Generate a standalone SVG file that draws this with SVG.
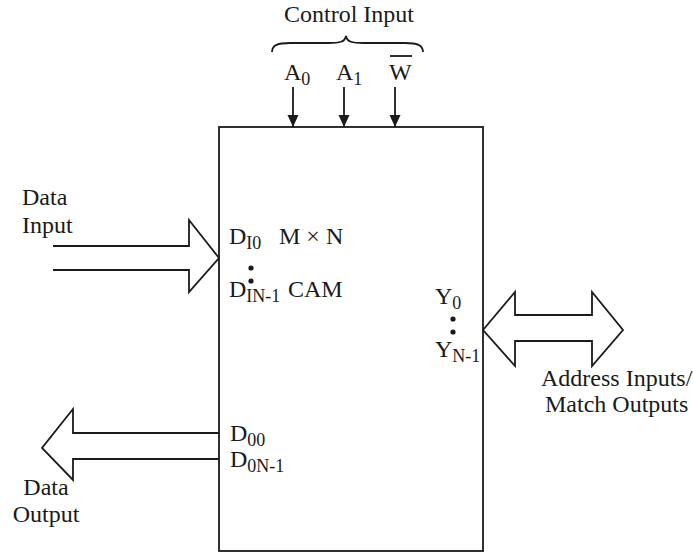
<svg xmlns="http://www.w3.org/2000/svg" width="693" height="553" viewBox="0 0 693 553">
<style>
text{font-family:"Liberation Serif","Times New Roman",serif;font-size:24px;fill:#1a1a1a}
.sub{font-size:18px}
.ln{fill:none;stroke:#1a1a1a;stroke-width:1.8}
.bus{fill:#fff;stroke:#1a1a1a;stroke-width:1.8;stroke-linejoin:miter}
.dot{fill:#1a1a1a}
</style>
<defs>
<marker id="ah" markerUnits="userSpaceOnUse" markerWidth="12" markerHeight="14" viewBox="0 0 12 14" refX="12" refY="7" orient="auto">
<path d="M0,1.5 L12,7 L0,12.5 Z" fill="#1a1a1a"/>
</marker>
</defs>
<rect width="693" height="553" fill="#fff"/>
<g id="connectors">
<line class="ln" x1="293" y1="87" x2="293" y2="127" marker-end="url(#ah)"/>
<line class="ln" x1="344" y1="87" x2="344" y2="127" marker-end="url(#ah)"/>
<line class="ln" x1="395" y1="87" x2="395" y2="127" marker-end="url(#ah)"/>
<path id="data-input-bus" class="bus" d="M53,246 L189,246 L189,220 L219,258 L189,292 L189,270 L53,270"/>
<path id="addr-bus" class="bus" d="M483,330 L515,292 L515,315 L592,315 L592,292 L623,330 L592,366 L592,341 L515,341 L515,366 Z"/>
<path id="data-output-bus" class="bus" d="M219,433 L73,433 L73,409 L42,448 L73,480 L73,459 L219,459"/>
</g>
<g id="control-input">
<text x="349" y="22" text-anchor="middle">Control Input</text>
<path class="ln" d="M272,52 C272,45 278,43 290,43 L328,43 C340,43 345,42 346,36 C347,42 352,43 364,43 L405,43 C417,43 423,45 423,52"/>
<text x="284" y="80">A<tspan class="sub" dy="5">0</tspan></text>
<text x="336" y="80">A<tspan class="sub" dy="5">1</tspan></text>
<text x="389" y="80">W</text>
<line class="ln" x1="390" y1="56" x2="412" y2="56"/>
</g>
<g id="cam">
<rect class="ln" x="219" y="127" width="264" height="424"/>
<text x="229" y="244">D<tspan class="sub" dy="5">I0</tspan></text>
<text x="279" y="244">M × N</text>
<circle class="dot" cx="251" cy="268" r="2.6"/>
<circle class="dot" cx="251" cy="281" r="2.6"/>
<text x="229" y="297">D<tspan class="sub" dy="5">IN-1</tspan></text>
<text x="288" y="297">CAM</text>
<text x="435" y="304">Y<tspan class="sub" dy="5">0</tspan></text>
<circle class="dot" cx="453" cy="319" r="2.6"/>
<circle class="dot" cx="453" cy="332" r="2.6"/>
<text x="435" y="357">Y<tspan class="sub" dy="5">N-1</tspan></text>
<text x="230" y="441">D<tspan class="sub" dy="5">00</tspan></text>
<text x="230" y="467">D<tspan class="sub" dy="5">0N-1</tspan></text>
</g>
<g id="data-input">
<text x="22" y="205">Data</text>
<text x="22" y="233">Input</text>
</g>
<g id="address-match">
<text x="541" y="386">Address Inputs/</text>
<text x="545" y="412">Match Outputs</text>
</g>
<g id="data-output">
<text x="46" y="495" text-anchor="middle">Data</text>
<text x="46" y="522" text-anchor="middle">Output</text>
</g>
</svg>
